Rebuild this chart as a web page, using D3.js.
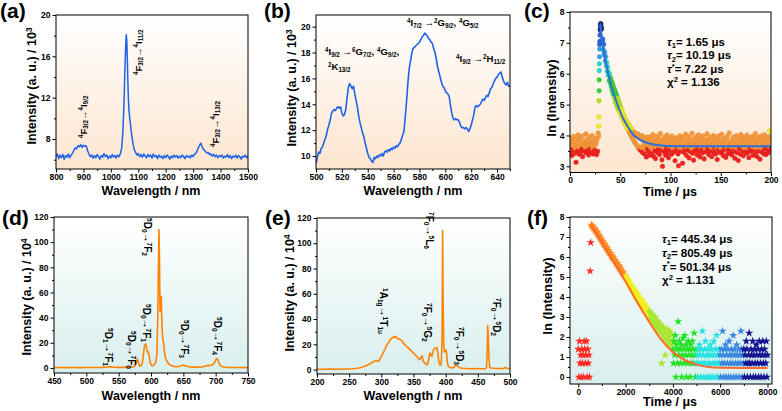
<!DOCTYPE html>
<html><head><meta charset="utf-8">
<script src="https://cdn.jsdelivr.net/npm/d3@7"></script>
<style>
body{margin:0;background:#fff}
svg{display:block}
text{font-family:"Liberation Sans",Arial,sans-serif;font-weight:bold;fill:#000}
</style>
</head><body>
<svg id="chart" width="782" height="411"></svg>
<script>
// ---------------- DATA ----------------
// (a) Nd emission
const aWavelength = [800,805,810,815,820,825,830,835,840,845,
850,855,860,865,870,875,880,885,890,895,
900,905,910,915,920,925,930,935,940,945,
950,955,960,965,970,975,980,985,990,995,
1000,1005,1010,1015,1020,1025,1030,1035,1040,1044,
1048,1051,1054,1056,1058,1060,1062,1064,1066,1069,
1072,1075,1078,1081,1085,1090,1095,1100,1105,1110,
1115,1120,1125,1130,1135,1140,1145,1150,1155,1160,
1165,1170,1175,1180,1185,1190,1195,1200,1205,1210,
1215,1220,1225,1230,1235,1240,1245,1250,1255,1260,
1265,1270,1275,1280,1285,1290,1295,1300,1305,1310,
1315,1320,1325,1328,1331,1335,1340,1345,1350,1355,
1360,1365,1370,1375,1380,1385,1390,1395,1400,1405,
1410,1415,1420,1425,1430,1435,1440,1445,1450,1455,
1460,1465,1470,1475,1480,1485,1490,1495,1500];
const aIntensity = [6.3,6.55,6.1,6.45,6.2,6.5,6.05,6.4,6.25,6.55,
6.2,6.45,6.6,6.9,7.15,7.05,7.35,7.25,7.45,7.2,
7.4,7.3,7.35,6.9,6.55,6.3,6.45,6.15,6.4,6.2,
6.5,6.3,6.05,6.4,6.25,6.6,6.3,6.45,6.1,6.35,
6.2,6.5,6.25,6.4,6.15,6.45,6.3,6.6,7.2,8.8,
11.5,14.5,17.0,18.1,17.6,15.8,13.6,11.8,10.8,10.0,
9.3,8.6,8.0,7.5,7.0,6.7,6.45,6.6,6.3,6.5,
6.25,6.55,6.35,6.2,6.5,6.3,6.45,6.15,6.55,6.3,
6.4,6.1,6.45,6.25,6.35,6.1,6.4,6.2,6.45,6.3,
6.05,6.35,6.2,6.45,6.25,6.4,6.15,6.35,6.2,6.45,
6.3,6.1,6.4,6.25,6.35,6.2,6.45,6.3,6.55,6.6,
6.9,7.2,7.5,7.6,7.35,7.1,6.95,6.8,6.65,6.7,
6.5,6.55,6.35,6.5,6.3,6.45,6.2,6.4,6.3,6.45,
6.15,6.35,6.25,6.5,6.2,6.4,6.1,6.35,6.25,6.45,
6.15,6.4,6.3,6.05,6.35,6.25,6.45,6.2,6.35];

// (b) Nd excitation, 1 nm grid from 500 nm
const bStart = 500;
const bIntensity = [9.4,9.9,10.3,10.2,10.6,10.7,11.0,11.3,11.6,12.1,
12.4,12.8,13.3,13.5,13.6,13.5,13.7,13.8,13.7,13.8,
13.3,13.1,13.2,13.6,14.5,15.3,15.6,15.4,15.2,15.4,
14.8,14.3,13.8,13.1,12.6,12.2,11.8,11.5,11.0,10.6,
10.2,9.9,9.8,9.6,9.5,9.9,9.8,10.0,9.9,10.1,
10.0,10.2,10.0,10.3,10.4,10.3,10.5,10.4,10.6,10.5,
10.7,10.6,10.8,10.7,10.9,11.0,11.3,11.6,11.9,13.0,
14.2,15.6,16.7,17.3,17.9,18.3,18.4,18.5,18.6,18.7,
18.8,19.0,19.2,19.3,19.5,19.4,19.3,19.1,19.0,18.8,
18.7,18.3,18.0,17.5,16.9,16.5,16.1,15.7,15.4,15.3,
15.0,14.9,14.8,14.6,13.9,13.3,12.9,12.8,12.9,12.8,
12.8,12.6,12.3,12.2,12.2,12.1,12.2,12.1,11.9,12.1,
12.4,12.8,13.2,13.8,13.9,13.8,13.9,14.0,14.2,14.4,
14.3,14.5,14.7,14.6,14.9,15.2,15.3,15.6,15.8,16.0,
16.1,16.3,16.4,16.5,16.1,15.8,15.6,15.5,15.7,15.4,
15.4];

// (c) Nd decay: channels every 0.5 us from 0 us, ln(counts)
const cStep = 0.5;
const cLnIntensity = [
3.72,3.48,3.91,3.60,3.35,3.82,3.55,3.97,3.66,3.42,
3.78,3.58,3.13,3.88,3.70,3.51,4.02,3.63,3.39,3.85,
3.67,3.46,3.93,3.74,3.57,3.31,3.99,3.69,3.53,3.81,
3.62,3.44,4.05,3.76,3.50,3.87,3.65,3.37,3.95,3.71,
3.56,3.83,3.47,3.68,4.00,3.59,3.40,3.79,3.64,3.52,
3.90,3.45,3.73,3.38,3.86,3.49,4.08,
3.98,5.80,6.95,7.40,7.62,7.50,
7.45,7.05,7.12,6.78,6.95,6.62,6.70,6.41,6.55,6.25,
6.36,6.08,6.22,5.95,6.05,5.78,5.96,5.70,5.85,5.58,
5.74,5.45,5.66,5.33,5.55,5.22,5.48,5.10,5.38,5.02,
5.30,4.92,5.20,4.85,5.12,4.76,5.02,4.70,4.92,4.62,
4.84,4.55,4.75,4.48,4.66,4.40,4.58,4.35,4.50,4.28,
4.45,4.22,4.40,4.16,4.35,4.10,4.30,4.05,4.24,3.98,
4.20,3.92,4.15,3.86,4.10,3.80,4.08,3.75,4.02,3.70,
3.98,3.66,4.05,3.58,3.92,3.62,3.95,3.52,3.88,3.60,
4.00,3.45,3.85,3.68,3.94,3.40,3.78,3.58,3.90,3.30,
3.72,3.55,3.96,3.48,3.82,3.36,3.70,3.62,
3.94,3.41,3.77,3.58,4.03,3.33,3.69,3.87,3.50,3.25,
3.81,3.63,3.97,3.44,3.72,3.55,3.90,3.38,3.66,4.06,
3.52,3.79,3.21,3.00,3.86,3.61,3.47,3.95,3.70,3.36,
3.84,3.57,4.01,3.43,3.75,3.28,3.64,3.92,3.53,3.80,
3.67,3.39,3.98,3.59,3.73,3.46,3.89,3.62,3.18,3.85,
3.71,3.54,3.93,3.66,3.40,3.02,3.82,3.58,3.99,3.49,
3.76,3.60,3.88,3.10,3.69,3.95,3.45,3.74,3.56,4.04,
3.63,3.35,3.83,3.70,3.52,3.97,3.27,3.66,3.86,3.48,
3.78,3.59,4.07,3.42,3.71,3.20,3.92,3.64,3.51,3.81,
3.68,3.96,3.37,3.73,3.55,4.02,3.46,3.84,3.30,3.61,
3.90,3.53,3.75,3.43,3.99,3.66,3.24,3.79,3.58,3.87,
3.47,3.70,4.05,3.56,3.82,3.38,3.67,3.93,3.50,3.76,
3.62,3.31,3.88,3.69,4.00,3.45,3.74,3.57,3.95,3.40,
3.83,3.60,3.22,3.77,3.52,3.98,3.65,3.86,3.44,3.71,
3.58,4.04,3.48,3.80,3.35,3.68,3.91,3.55,3.73,3.29,
3.89,3.63,3.97,3.41,3.75,3.54,4.08,3.66,3.46,3.82,
3.70,3.37,3.85,3.59,3.94,3.50,3.72,3.26,3.87,3.61,
3.99,3.44,3.78,3.63,3.19,3.90,3.56,3.74,3.39,4.03,
3.67,3.83,3.51,3.96,3.34,3.71,3.58,3.88,3.47,3.76,
3.60,4.01,3.42,3.81,3.65,3.28,3.93,3.55,3.79,3.49,
3.86,3.64,3.97,3.36,3.73,3.52,3.90,3.61,4.06,3.45,
3.77,3.32,3.84,3.68,3.95,3.50,3.70,3.23,3.89,3.59,
3.98,3.46,3.75,3.62,3.85,3.40,4.02,3.57,3.80,3.38,
3.69,3.92,3.53,3.78,3.44,3.96,4.15,3.63,3.87,3.55];
const cPulseTime = [28.6,28.7,28.8,29.0,29.1,29.2,29.4,29.5,29.7,29.9,30.1,30.3,30.6,30.8];
const cPulseLn   = [4.30,4.60,5.12,5.45,6.10,6.32,6.55,6.80,7.05,7.25,7.45,7.58,7.62,7.55];
const cFitTime = [30,31,32,33,34.5,36.5,38,40,42.5,45,47.5,50,53,56.5,60,63,66,70,75,80,86,93,100,116,150,200];
const cFitLn   = [7.62,7.35,7.10,6.87,6.58,6.23,6.00,5.74,5.45,5.20,4.97,4.77,4.54,4.34,4.16,4.02,3.94,3.86,3.78,3.73,3.69,3.67,3.66,3.65,3.65,3.65];
const cLegend = ["~{τ}_{1}= 1.65 μs","~{τ}_{2}= 10.19 μs","~{τ}^{*}= 7.22 μs","χ^{2} = 1.136"];

// (d) Eu emission
const dWavelength = [450,460,470,480,490,500,510,520,525,530,535,538,542,550,560,568,572,575,577,579,
580,581,583,585,587,589,590,591.5,593,594,595,596,597,599,601,603,605,607,609,610.5,
611.5,612.3,613,614,615,615.8,616.5,617.5,618.5,619.5,621,623,625,627,630,635,640,645,648,650,
652,655,660,670,680,685,688,692,695,698,700,702,704,706,708,712,720,730,740,750];
const dIntensity = [0.3,0.35,0.3,0.35,0.3,0.35,0.4,0.4,0.5,0.7,1.1,0.9,0.6,0.5,0.5,0.6,0.8,1.5,4,7,
6,3,1.5,2,5,14,18,19.2,17,13,12.5,12.8,10,4,2,1.8,2.5,4,10,40,
80,110,90,45,52,57,42,28,22,20,12,7,5,3.5,2.2,1.3,1,1.4,2.0,2.3,
2.0,1.3,0.9,0.7,0.9,1.5,2.2,2.0,2.5,4,6.5,7.5,6,3,1.5,0.8,0.5,0.4,0.35,0.3];

// (e) Eu excitation
const eWavelength = [200,210,220,230,240,250,255,260,265,268,272,275,278,281,284,287,290,292,294,296,
298,300,302,304,306,308,310,312,314,316,318,320,321,323,325,327,329,331,333,335,
338,341,344,347,350,353,356,358,360,362,363.5,365,367,369,371,372,374,375.5,377,378.5,
380,381,383,385,386.5,388,389.5,391,392.5,393.5,394.5,395.3,396,397,398,399,400.5,401.5,402.5,404,
407,410,413,415,417,419,421.5,426,432,440,448,455,462,463.5,464.5,465.3,466.3,467.4,468.5,470,
478,485,490,493,495,500];
const eIntensity = [0.3,0.3,0.35,0.3,0.4,0.5,0.6,0.8,1.2,1.6,2.2,2.8,3.4,4.2,5.0,6.2,6.8,7.2,6.9,6.4,
8.5,10.5,12.2,14.3,16.5,19.0,20.6,22.0,23.6,24.8,25.2,26.3,25.4,26.0,24.5,24.3,24.0,23.2,22.0,20.5,
19.0,17.5,16.2,14.5,13.0,11.5,9.8,8.5,8.0,10.3,10.8,6.5,5.5,4.5,3.8,4.2,9,13,12.5,10.3,
13,15.6,17,16.5,17.4,12,6,3.8,3.6,8,30,110,55,19.6,14,14.5,15.6,13,6,2.5,
1.6,1.3,2.0,3.0,3.5,2.5,1.5,1.0,0.9,0.7,0.8,0.6,0.7,2.0,12,35,25,8,2.0,1.2,
0.8,0.9,0.8,1.8,1.0,0.7];

// (f) Eu decay: channels every 25 us, ln(counts)
const fStep = 25;
const fPreStart = 0;
const fPreLn = [1.39,0,1.79,0.69,1.1,0,1.39,0.69,1.1,0,1.79,1.39,0.69,1.1,1.79,0,1.39,0.69,1.1,0];
const fRiseStart = 500;
const fRiseLn = [5.30,6.72];
const fDecayStart = 550;
const fDecayLn = [7.60,7.55,7.56,7.50,7.45,7.43,7.36,7.35,7.28,7.25,
7.22,7.14,7.12,7.05,7.02,6.96,6.90,6.88,6.80,6.78,
6.70,6.68,6.62,6.60,6.52,6.50,6.42,6.41,6.33,6.32,
6.25,6.20,6.18,6.10,6.08,6.02,5.96,5.97,5.88,5.88,
5.78,5.80,5.70,5.65,5.68,5.55,5.58,5.45,5.50,5.38,
5.40,5.28,5.30,5.18,5.22,5.08,5.10,4.98,5.05,4.90,
4.92,4.78,4.85,4.65,4.75,4.55,4.66,4.45,4.58,4.35,
4.48,4.28,4.40,4.15,4.30,4.05,4.22,3.95,4.12,3.85,
4.05,3.78,3.95,3.68,3.88,3.55,3.80,3.50,3.70,3.40,
3.62,3.30,3.55,3.22,3.45,3.15,3.35,3.05,3.30,2.95,
3.22,2.85,3.15,2.80,3.05,2.71,2.94,2.64,3.00,2.56,
2.83,2.48,2.77,2.40,2.71,2.30,2.64,2.20,2.56,0.69,
2.40,2.08,2.48,1.95,2.30,1.10,2.20,1.79,2.40,1.95,
2.08,1.61,2.30,1.79,2.20,1.61,2.08,1.79];
const fTailStart = 4000;
const fTailLn = [
1.39,0.69,1.79,1.10,2.08,0.00,1.61,1.39,0.69,2.77,
1.10,1.79,1.39,0.69,1.61,0.00,1.10,1.95,1.39,0.69,
2.08,1.10,1.61,0.00,1.39,0.69,1.79,1.10,1.39,0.00,
1.61,0.69,1.10,1.79,1.39,0.69,2.20,1.10,0.00,1.39,
0.69,1.10,0.00,1.39,0.69,1.61,1.10,0.00,1.39,0.69,
2.30,1.10,0.00,0.69,1.39,1.79,0.00,1.10,0.69,1.39,
0.00,1.10,0.69,1.61,0.00,1.39,1.10,0.69,0.00,1.79,
1.10,0.69,1.39,0.00,2.08,0.69,1.10,0.00,1.39,0.69,
1.10,0.00,1.39,0.69,2.30,1.10,0.00,0.69,1.39,1.61,
0.00,1.10,0.69,1.39,0.00,1.79,1.10,0.69,0.00,1.39,
1.10,0.69,2.08,0.00,1.39,1.10,0.69,0.00,1.61,1.10,
0.69,1.39,0.00,1.10,0.69,2.30,1.39,0.00,1.10,0.69,
1.39,0.00,1.10,0.69,1.79,1.39,0.00,0.69,1.10,2.20,
0.69,0.00,1.39,1.10,0.69,1.79,0.00,1.10,1.39,0.69,
0.00,1.61,1.10,0.69,1.39,0.00,1.79,1.10,0.69,0.00,
1.39,1.10,1.79,0.69,0.00,1.39,1.10,0.69,1.79,0.00,
1.10];
const fFitTime = [540,1000,1500,2000,2500,3000,3500,4000,4500,5000,5500,6000,7000,8000];
const fFitLn   = [7.6,6.72,5.75,4.78,3.72,2.75,1.88,1.25,0.85,0.62,0.5,0.46,0.45,0.45];
const fLegend = ["~{τ}_{1}= 445.34 μs","~{τ}_{2}= 805.49 μs","~{τ}^{*}= 501.34 μs","χ^{2} = 1.131"];

// tick labels
const aXTicks = [800,900,1000,1100,1200,1300,1400,1500], aYTicks = [8,12,16,20];
const bXTicks = [500,520,540,560,580,600,620,640], bYTicks = [10,12,14,16,18,20];
const cXTicks = [0,50,100,150,200], cYTicks = [3,4,5,6,7,8];
const dXTicks = [450,500,550,600,650,700,750], dYTicks = [0,20,40,60,80,100,120];
const eXTicks = [200,250,300,350,400,450,500], eYTicks = [0,20,40,60,80,100,120];
const fXTicks = [0,2000,4000,6000,8000], fYTicks = [0,1,2,3,4,5,6,7,8];

// ---------------- DRAWING ----------------
const svg = d3.select("#chart");
const defs = svg.append("defs");
function grad(id, c0, c1){
  const g = defs.append("linearGradient").attr("id",id).attr("x1",0).attr("y1",0).attr("x2",0).attr("y2",1);
  g.append("stop").attr("offset","0%").attr("stop-color",c0);
  g.append("stop").attr("offset","100%").attr("stop-color",c1);
}
grad("gWarm","#ffffff","#fde5cf");
grad("gCool","#ffffff","#d9efee");

function rich(sel, str, fs){
  sel.attr("font-size", fs);
  const re = /([\^_~])\{([^}]*)\}|([^\^_~]+)/g;
  let cur = 0, m;
  while((m = re.exec(str))){
    let txt, target = 0, size = fs, italic = false;
    if(m[1]){
      txt = m[2];
      if(m[1]==="^"){ target = -0.36*fs; size = 0.66*fs; }
      else if(m[1]==="_"){ target = 0.2*fs; size = 0.66*fs; }
      else { italic = true; }
    } else txt = m[3];
    const t = sel.append("tspan").attr("dy", (target-cur).toFixed(2)).attr("font-size", size).text(txt);
    if(italic) t.attr("font-style","italic");
    cur = target;
  }
}

function panel(o){
  const x = d3.scaleLinear().domain(o.xDomain).range([o.left,o.right]);
  const y = d3.scaleLinear().domain(o.yDomain).range([o.bottom,o.top]);
  const g = svg.append("g");
  g.append("rect").attr("x",o.left).attr("y",o.top).attr("width",o.right-o.left).attr("height",o.bottom-o.top)
    .attr("fill",`url(#${o.grad})`);
  const cid = "clip_"+o.id;
  defs.append("clipPath").attr("id",cid).append("rect")
    .attr("x",o.left).attr("y",o.top).attr("width",o.right-o.left).attr("height",o.bottom-o.top);
  const plot = g.append("g").attr("clip-path",`url(#${cid})`);
  const fmt = d3.format("d");
  const axes = g.append("g");
  axes.append("g").attr("transform",`translate(0,${o.bottom})`)
    .call(d3.axisBottom(x).tickValues(o.xMinor).tickSize(2).tickFormat(""));
  axes.append("g").attr("transform",`translate(0,${o.bottom})`)
    .call(d3.axisBottom(x).tickValues(o.xTicks).tickSize(3.5).tickPadding(1).tickFormat(fmt));
  axes.append("g").attr("transform",`translate(${o.left},0)`)
    .call(d3.axisLeft(y).tickValues(o.yMinor).tickSize(2).tickFormat(""));
  axes.append("g").attr("transform",`translate(${o.left},0)`)
    .call(d3.axisLeft(y).tickValues(o.yTicks).tickSize(3.5).tickPadding(2).tickFormat(fmt));
  axes.selectAll(".domain").remove();
  axes.selectAll("g").attr("font-family",null).attr("font-size",null);
  axes.selectAll("text").attr("font-size",8.5).attr("fill","#000");
  axes.selectAll("line").attr("stroke","#000");
  g.append("rect").attr("x",o.left).attr("y",o.top).attr("width",o.right-o.left).attr("height",o.bottom-o.top)
    .attr("fill","none").attr("stroke","#000").attr("stroke-width",1);
  // titles
  g.append("text").attr("x",o.xTitle[0]).attr("y",o.xTitle[1]).attr("text-anchor","middle")
    .call(rich, o.xTitle[2], 12.5);
  g.append("text").attr("transform",`translate(${o.yTitle[0]},${o.yTitle[1]}) rotate(-90)`).attr("text-anchor","middle")
    .call(rich, o.yTitle[2], o.yTitle[3]||12.5);
  g.append("text").attr("x",o.label[0]).attr("y",o.label[1]).attr("font-size",21).text(o.label[2]);
  return {x,y,g,plot,front:g.append("g")};
}
function range(a,b,s){ return d3.range(a,b+s/2,s); }

function annotate(p, list, fs){
  list.forEach(a=>{
    p.front.append("text").attr("transform",`translate(${a[0]},${a[1]}) rotate(${a[2]})`)
      .call(rich, a[3], fs);
  });
}

// ---- (a)
{
  const p = panel({id:"a",left:56,right:248,top:15,bottom:169,xDomain:[800,1500],yDomain:[5.1,20],
    xTicks:aXTicks,xMinor:range(850,1450,100),yTicks:aYTicks,yMinor:[6,10,14,18],grad:"gWarm",
    xTitle:[151,195,"Wavelength / nm"],yTitle:[36,86,"Intensity (a. u.) / 10^{3}"],label:[0,18,"(a)"]});
  const pts = aWavelength.map((w,i)=>[w,aIntensity[i]]);
  p.plot.append("path").datum(pts).attr("fill","none").attr("stroke","#1f62e6").attr("stroke-width",1.5)
    .attr("stroke-linejoin","round").attr("d",d3.line().x(d=>p.x(d[0])).y(d=>p.y(d[1])));
  annotate(p,[[86.5,138,-90,"^{4}F_{3/2}→^{4}I_{9/2}"],[141.5,75,-90,"^{4}F_{3/2}→^{4}I_{11/2}"],[218.5,147,-90,"^{4}F_{3/2}→^{4}I_{13/2}"]],9.5);
}
// ---- (b)
{
  const p = panel({id:"b",left:316,right:510,top:15,bottom:169,xDomain:[500,650],yDomain:[9,20.9],
    xTicks:bXTicks,xMinor:range(510,650,20),yTicks:bYTicks,yMinor:[11,13,15,17,19],grad:"gWarm",
    xTitle:[413,195,"Wavelength / nm"],yTitle:[296,88,"Intensity (a. u.) / 10^{3}"],label:[264,18,"(b)"]});
  const pts = bIntensity.map((v,i)=>[bStart+i,v]);
  p.plot.append("path").datum(pts).attr("fill","none").attr("stroke","#1f62e6").attr("stroke-width",1.6)
    .attr("stroke-linejoin","round").attr("d",d3.line().x(d=>p.x(d[0])).y(d=>p.y(d[1])));
  annotate(p,[[325,55,0,"^{4}I_{9/2} →^{6}G_{7/2}, ^{4}G_{9/2},"],[328,70,0,"^{2}K_{13/2}"],
    [407,26,0,"^{4}I_{7/2} →^{2}G_{9/2}, ^{4}G_{5/2}"],[456,62,0,"^{4}I_{9/2} →^{2}H_{11/2}"]],9.5);
}
// ---- (c)
{
  const p = panel({id:"c",left:570,right:771,top:12,bottom:172.5,xDomain:[0,200],yDomain:[2.8,8],
    xTicks:cXTicks,xMinor:[25,75,125,175],yTicks:cYTicks,yMinor:[3.5,4.5,5.5,6.5,7.5],grad:"gWarm",
    xTitle:[670,196,"Time / μs"],yTitle:[556,98,"ln (Intensity)",13],label:[524,18,"(c)"]});
  const col = d3.scaleThreshold().domain([3.58,4.12,4.85,5.3,5.9,6.4,6.95,7.45])
    .range(["#f2231e","#fa9a3c","#f0ec1e","#b2e41e","#36d236","#26d6cf","#2ea4e4","#2a62d6","#1c2a7c"]);
  const pts = cLnIntensity.map((v,i)=>[i*cStep,v]).concat(cPulseTime.map((t,i)=>[t,cPulseLn[i]]));
  p.plot.selectAll("circle").data(pts).join("circle").attr("cx",d=>p.x(d[0])).attr("cy",d=>p.y(d[1])).attr("r",2.3)
    .attr("fill",d=>col(d[1])).attr("stroke",d=>d3.color(col(d[1])).darker(0.5)).attr("stroke-width",0.4);
  p.plot.append("path").datum(cFitTime.map((t,i)=>[t,cFitLn[i]])).attr("fill","none").attr("stroke","#2a6fdc").attr("stroke-width",2)
    .attr("d",d3.line().curve(d3.curveMonotoneX).x(d=>p.x(d[0])).y(d=>p.y(d[1])));
  cLegend.forEach((s,i)=>p.front.append("text").attr("x",667).attr("y",46+i*13.4).call(rich,s,11.5));
}
// ---- (d)
{
  const p = panel({id:"d",left:54,right:248,top:217,bottom:373,xDomain:[450,750],yDomain:[-4,120],
    xTicks:dXTicks,xMinor:range(475,725,50),yTicks:dYTicks,yMinor:range(10,110,20),grad:"gCool",
    xTitle:[151,400,"Wavelength / nm"],yTitle:[31,297,"Intensity (a. u.) / 10^{4}"],label:[2,225,"(d)"]});
  const pts = dWavelength.map((w,i)=>[w,dIntensity[i]]);
  p.plot.append("path").datum(pts).attr("fill","none").attr("stroke","#ff8200").attr("stroke-width",1.6)
    .attr("stroke-linejoin","round").attr("d",d3.line().x(d=>p.x(d[0])).y(d=>p.y(d[1])));
  annotate(p,[[104.5,328,90,"^{5}D_{1}→^{7}F_{1}"],[127.5,331,90,"^{5}D_{0}→^{7}F_{0}"],[142.5,304,90,"^{5}D_{0}→^{7}F_{1}"],
    [143.5,218,90,"^{5}D_{0}→^{7}F_{2}"],[180.5,320,90,"^{5}D_{0}→^{7}F_{3}"],[213.5,317,90,"^{5}D_{0}→^{7}F_{4}"]],10);
}
// ---- (e)
{
  const p = panel({id:"e",left:317,right:510,top:218,bottom:374,xDomain:[200,500],yDomain:[-3.5,120],
    xTicks:eXTicks,xMinor:range(225,475,50),yTicks:eYTicks,yMinor:range(10,110,20),grad:"gCool",
    xTitle:[413,400,"Wavelength / nm"],yTitle:[294,293,"Intensity (a. u.) / 10^{4}"],label:[265,225,"(e)"]});
  const pts = eWavelength.map((w,i)=>[w,eIntensity[i]]);
  p.plot.append("path").datum(pts).attr("fill","none").attr("stroke","#ff8200").attr("stroke-width",1.6)
    .attr("stroke-linejoin","round").attr("d",d3.line().x(d=>p.x(d[0])).y(d=>p.y(d[1])));
  annotate(p,[[379.5,288,90,"^{1}A_{1g}→^{1}T_{1u}"],[423.5,303,90,"^{7}F_{0}→^{5}G_{2}"],[425.5,212,90,"^{7}F_{0}→^{5}L_{6}"],
    [455.5,327,90,"^{7}F_{0}→^{5}D_{3}"],[492.5,298,90,"^{7}F_{0}→^{5}D_{2}"]],10);
}
// ---- (f)
{
  const p = panel({id:"f",left:570,right:772,top:217,bottom:384,xDomain:[-350,8190],yDomain:[-0.35,8],
    xTicks:fXTicks,xMinor:[1000,3000,5000,7000],yTicks:fYTicks,yMinor:range(0.5,7.5,1),grad:"gCool",
    xTitle:[670,406,"Time / μs"],yTitle:[552,296,"ln (Intensity)",13],label:[527,225,"(f)"]});
  const col = d3.scaleThreshold().domain([540,2000,3000,4000,5000,6000,7000])
    .range(["#ff2a24","#ff8a22","#f2f01c","#a8e632","#26e226","#26e2e2","#3a86e0","#141490"]);
  const seg = (start, arr) => arr.map((v,i)=>[start+i*fStep, v]);
  const pts = [].concat(seg(fPreStart,fPreLn), seg(fRiseStart,fRiseLn), seg(fDecayStart,fDecayLn), seg(fTailStart,fTailLn));
  const star = d3.symbol().type(d3.symbolStar).size(22);
  p.plot.selectAll("path.pt").data(pts).join("path").attr("class","pt")
    .attr("transform",d=>`translate(${p.x(d[0])},${p.y(d[1])})`).attr("d",star).attr("fill",d=>col(d[0]));
  p.plot.append("path").datum(fFitTime.map((t,i)=>[t,fFitLn[i]])).attr("fill","none").attr("stroke","#ff6a2a").attr("stroke-width",2)
    .attr("d",d3.line().curve(d3.curveMonotoneX).x(d=>p.x(d[0])).y(d=>p.y(d[1])));
  fLegend.forEach((s,i)=>p.front.append("text").attr("x",662).attr("y",243+i*13.8).call(rich,s,11.5));
}
</script>
</body></html>
